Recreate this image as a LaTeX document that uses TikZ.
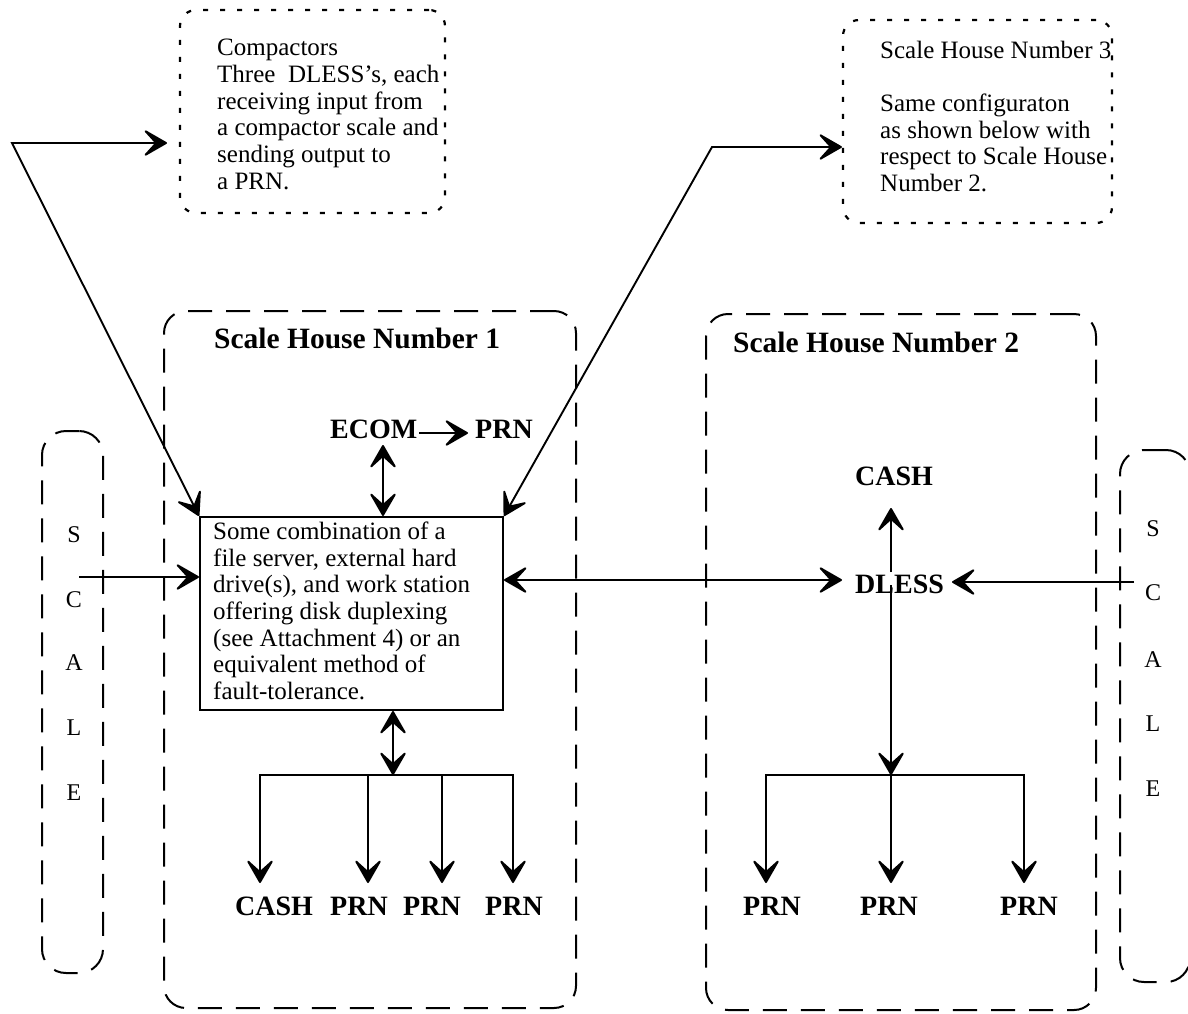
\documentclass[tikz,border=0pt]{standalone}
\usepackage{fontspec}
\setmainfont{Liberation Serif}
\usetikzlibrary{arrows.meta}

\tikzset{
  >={Stealth[length=27pt,width=31pt,inset=14pt,round]},
  conn/.style={line width=1.9pt},
  housebox/.style={draw, line width=2pt, dash pattern=on 24pt off 14pt, rounded corners=22pt, inner sep=0pt},
  notebox/.style={draw, line width=2.2pt, dash pattern=on 5pt off 12pt, rounded corners=16pt, inner sep=0pt},
  scalebox/.style={draw, line width=2pt, dash pattern=on 24pt off 14pt, rounded corners=24pt, inner sep=0pt},
  plainbox/.style={draw, line width=2pt, inner sep=0pt},
  body/.style={font=\fontsize{25}{26.7}\selectfont, align=left, inner sep=0pt, anchor=north west},
  lbl/.style={font=\fontsize{28}{30}\selectfont\bfseries, inner sep=3pt, anchor=base west},
  ttl/.style={font=\fontsize{29.5}{31}\selectfont\bfseries, inner sep=3pt, anchor=base west},
  letter/.style={font=\fontsize{24}{26}\selectfont, inner sep=0pt},
}

\begin{document}
\begin{tikzpicture}[x=1pt,y=-1pt]
\fill[white] (0,0) rectangle (1188,1013);
\useasboundingbox (0,0) rectangle (1188,1013);

% note boxes at the top
\node[notebox, minimum width=265pt, minimum height=203pt] (cmp) at (312.5,111.5) {};
\node[body] (cmptext) at (217,39) {Compactors\\Three\ \ DLESS's, each\\receiving input from\\a compactor scale and\\sending output to\\a PRN.};

\node[notebox, minimum width=269pt, minimum height=203pt] (sh3) at (977.5,121.5) {};
\node[body] (sh3text) at (880,40.6) {Scale House Number 3\\[26.7pt]Same configuraton\\as shown below with\\respect to Scale House\\Number 2.};

% scale houses
\node[housebox, minimum width=412pt, minimum height=697pt] (sh1) at (370,659.5) {};
\node[housebox, minimum width=390pt, minimum height=696pt] (sh2) at (901,662) {};
\node[ttl] (t1) at (211,348) {Scale House Number 1};
\node[ttl] (t2) at (730,352) {Scale House Number 2};

% scales at both sides
\node[scalebox, minimum width=61pt, minimum height=542pt] (sclL) at (72.5,702) {};
\node[scalebox, minimum width=70pt, minimum height=532pt] (sclR) at (1155,716) {};
\foreach \ch/\yy [count=\i] in {S/535,C/600,A/663,L/728,E/793}
  \node[letter] (sl\i) at (74,\yy) {\ch};
\foreach \ch/\yy [count=\i] in {S/529,C/593,A/660,L/724,E/789}
  \node[letter] (sr\i) at (1153,\yy) {\ch};

% server box
\node[plainbox, minimum width=303pt, minimum height=193pt] (srv) at (351.5,613.5) {};
\node[body] (srvtext) at (213,521.6) {Some combination of a\\file server, external hard\\drive(s), and work station\\offering disk duplexing\\(see Attachment 4) or an\\equivalent method of\\fault-tolerance.};

% labels in house 1
\node[lbl] (ecom) at (327,438) {ECOM};
\node[lbl] (prnA) at (472,438) {PRN};
\node[lbl] (cashA) at (232,915) {CASH};
\node[lbl] (prnB) at (327,915) {PRN};
\node[lbl] (prnC) at (400,915) {PRN};
\node[lbl] (prnD) at (482,915) {PRN};

% labels in house 2
\node[lbl] (cashB) at (852,485) {CASH};
\node[lbl] (dless) at (852,593) {DLESS};
\node[lbl] (prnE) at (740,915) {PRN};
\node[lbl] (prnF) at (857,915) {PRN};
\node[lbl] (prnG) at (997,915) {PRN};

% connector end points
\coordinate (lk) at (12,143);
\coordinate (lkend) at (167,143);
\coordinate (rk) at (712,147);
\coordinate (ev) at (383,445);
\coordinate (ea) at (419,433);
\coordinate (eb) at (468,433);
\coordinate (sL) at (79,577);
\coordinate (dw) at (842,580);
\coordinate (sR) at (1134,582);
\coordinate (de) at (952,582);
\coordinate (du) at (891,572);
\coordinate (cu) at (891,508);
\coordinate (dd) at (891,585);
\coordinate (busA) at (393,775);
\coordinate (busB) at (891,775);

% links to the note boxes
\draw[conn,<->] (srv.north west) -- (lk) -- (lkend);
\draw[conn,<->] (srv.north east) -- (rk) -- (sh3.west |- rk);

% house 1
\draw[conn,->] (ea) -- (eb);
\draw[conn,<->] (ev) -- (srv.north -| ev);
\draw[conn,->] (sL) -- (srv.west |- sL);
\draw[conn,<->] (srv.south -| busA) -- (busA);
\draw[conn,<->] (260,883) -- (260,775) -- (513,775) -- (513,883);
\draw[conn,->] (368,775) -- (368,883);
\draw[conn,->] (442,775) -- (442,883);

% house 2
\draw[conn,<->] (srv.east |- dw) -- (dw);
\draw[conn,->] (sR) -- (de);
\draw[conn,->] (du) -- (cu);
\draw[conn,->] (dd) -- (busB);
\draw[conn,<->] (766,883) -- (766,775) -- (1024,775) -- (1024,883);
\draw[conn,->] (891,775) -- (891,883);
\end{tikzpicture}
\end{document}
